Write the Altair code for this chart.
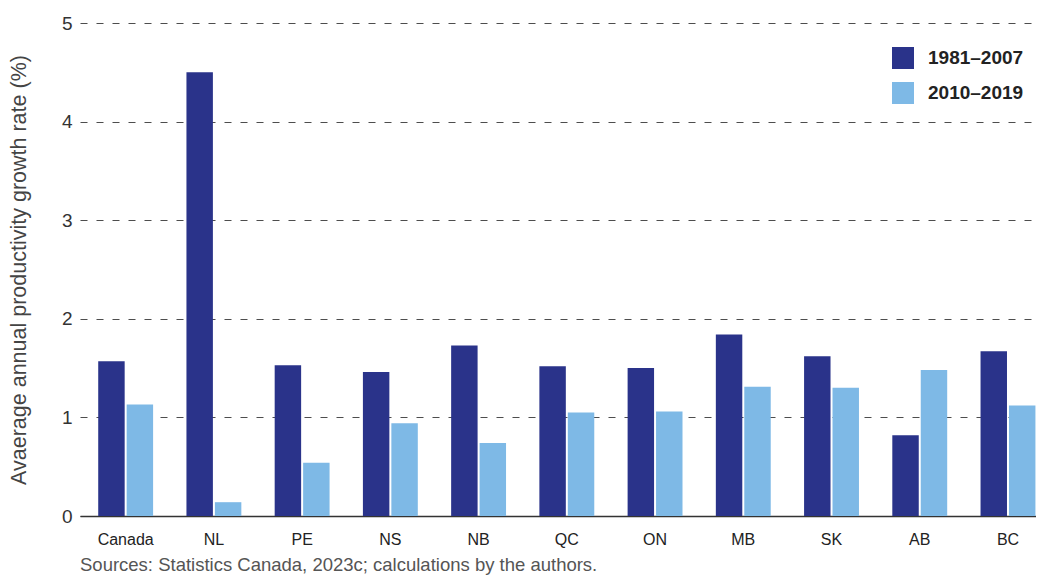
import altair as alt
import pandas as pd

regions = ["Canada", "NL", "PE", "NS", "NB", "QC", "ON", "MB", "SK", "AB", "BC"]
period_a = "1981–2007"
period_b = "2010–2019"
values_a = [1.57, 4.50, 1.53, 1.46, 1.73, 1.52, 1.50, 1.84, 1.62, 0.82, 1.67]
values_b = [1.13, 0.14, 0.54, 0.94, 0.74, 1.05, 1.06, 1.31, 1.30, 1.48, 1.12]
y_ticks = [0, 1, 2, 3, 4, 5]
y_title = "Avaerage annual productivity growth rate (%)"
source = "Sources: Statistics Canada, 2023c; calculations by the authors."

rows = []
for r, a, b in zip(regions, values_a, values_b):
    rows.append({"region": r, "period": period_a, "value": a})
    rows.append({"region": r, "period": period_b, "value": b})
df = pd.DataFrame(rows)

FONT = "Liberation Sans"

chart = alt.Chart(df).mark_bar().encode(
    x=alt.X("region:N", sort=regions, title=None,
            scale=alt.Scale(paddingInner=0.365, paddingOuter=0.1, align=1),
            axis=alt.Axis(labelAngle=0, ticks=False, labelPadding=15, labelFontSize=16,
                          labelColor="#222", labelFont=FONT, domainColor="#333",
                          domainWidth=1.5, grid=False)),
    xOffset=alt.XOffset("period:N", sort=[period_a, period_b],
                        scale=alt.Scale(paddingInner=0.07, paddingOuter=0.02)),
    y=alt.Y("value:Q", title=y_title,
            scale=alt.Scale(domain=[0, 5], nice=False),
            axis=alt.Axis(values=y_ticks, domain=False, ticks=False, labelPadding=8,
                          labelFontSize=19, labelColor="#333", labelFont=FONT,
                          titleFont=FONT, titleFontSize=21.5, titleFontWeight="normal",
                          titleColor="#444", titlePadding=31,
                          grid=True, gridDash=[7, 9], gridColor="#4d4d4d", gridWidth=1.2)),
    color=alt.Color("period:N", sort=[period_a, period_b],
                    scale=alt.Scale(domain=[period_a, period_b], range=["#2a338a", "#7eb9e6"]),
                    legend=alt.Legend(title=None, orient="none", legendX=812, legendY=24,
                                      symbolType="square", symbolSize=484, symbolStrokeWidth=0,
                                      labelFontSize=19, labelFont=FONT, labelFontWeight=600,
                                      labelColor="#222", labelOffset=14, rowPadding=13,
                                      padding=0)),
).properties(
    width=956,
    height=493,
    title=alt.TitleParams(text=source, orient="bottom", anchor="start", frame="group",
                          fontSize=18.5, font=FONT, fontWeight="normal", color="#555",
                          offset=9),
    autosize=alt.AutoSizeParams(type="none"),
    padding={"left": 72, "top": 15, "right": 0, "bottom": 62},
).configure_view(stroke=None)

chart.save("out.html", embed_options={"renderer": "svg", "actions": False})
